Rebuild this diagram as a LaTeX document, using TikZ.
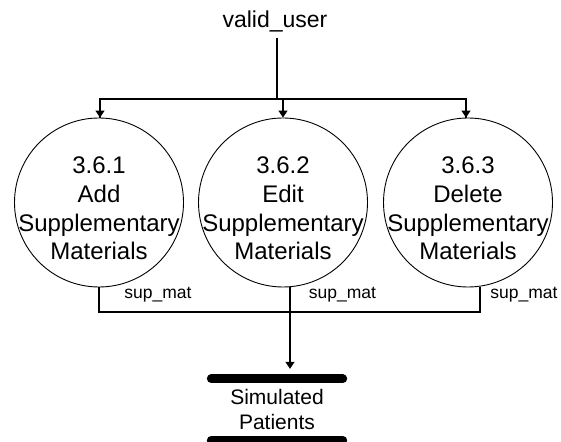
\documentclass[tikz,border=0pt]{standalone}
\usepackage{fontspec}
\setmainfont{Liberation Sans}
\usetikzlibrary{arrows.meta}

\begin{document}
\begin{tikzpicture}[x=1pt,y=1pt,
  proc/.style={draw, circle, line width=0.9pt, minimum size=169pt, inner sep=0pt},
  proctext/.style={align=center, inner sep=0pt, font=\fontsize{24}{28.7}\selectfont},
  flow/.style={line width=1.2pt, -{Triangle[width=9pt,length=7pt]}},
  link/.style={line width=1.2pt},
  bar/.style={line width=9pt, line cap=round},
  lbl/.style={inner sep=0pt, font=\fontsize{17.5}{20}\selectfont}]
\useasboundingbox (0,0) rectangle (561,441);
% processes
\node[proc] (p1) at (99,238.5){};
\node[proc] (p2) at (283,238.5){};
\node[proc] (p3) at (468,238.5){};
\node[proctext] (t1) at ([yshift=-6pt]p1.center){3.6.1\\Add\\Supplementary\\Materials};
\node[proctext] (t2) at ([yshift=-6pt]p2.center){3.6.2\\Edit\\Supplementary\\Materials};
\node[proctext] (t3) at ([yshift=-6pt]p3.center){3.6.3\\Delete\\Supplementary\\Materials};
% input
\node[inner sep=0pt, font=\fontsize{23}{26}\selectfont] (vu) at (275,420){valid\_user};
\coordinate (fork) at (277,342);
\draw[link] (vu.south -| fork) ++(0,-6) -- (fork);
\draw[link] (fork) -| ([xshift=1pt]p1.north);
\draw[link] (fork) -| ([xshift=-2pt]p3.north);
\draw[flow] (fork -| p1.north) ++(1,0) -- ([xshift=1pt]p1.north);
\draw[flow] (fork -| p2.north) -- (p2.north);
\draw[flow] (fork -| p3.north) ++(-2,0) -- ([xshift=-2pt]p3.north);
% store
\node[minimum width=131pt, minimum height=61pt, inner sep=0pt, align=center,
      font=\fontsize{21}{25}\selectfont] (sp) at (277,31.5){Simulated\\Patients};
\draw[bar] (sp.north west) -- (sp.north east);
\draw[bar] (sp.south west) -- (sp.south east);
% output
\coordinate (join) at (290,129);
\draw[link] (p1.south) -- (p1.south |- join) -- ([xshift=12pt]p3.south |- join) -- ([xshift=12pt]p3.south);
\draw[link] ([xshift=7pt]p2.south) -- (join);
\draw[flow] (join) -- ([yshift=10pt]sp.north -| join);
\node[lbl] (s1) at (158,146){sup\_mat};
\node[lbl] (s2) at (342.5,146){sup\_mat};
\node[lbl] (s3) at (524,146){sup\_mat};
\end{tikzpicture}
\end{document}
